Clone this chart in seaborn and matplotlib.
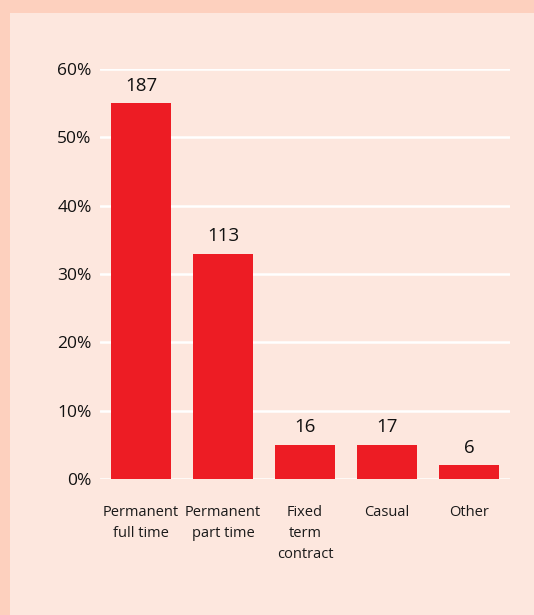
import matplotlib
matplotlib.use("Agg")
import matplotlib.pyplot as plt
import seaborn as sns
import pandas as pd
from matplotlib.patches import Rectangle

# datos
categorias = ["Permanent\nfull time", "Permanent\npart time", "Fixed\nterm\ncontract", "Casual", "Other"]
porcentajes = [55, 33, 5, 5, 2]
conteos = [187, 113, 16, 17, 6]
ticks_y = [0, 10, 20, 30, 40, 50, 60]

sns.set_theme(style="white")
plt.rcParams['font.family'] = ['Open Sans', 'DejaVu Sans']

df = pd.DataFrame({"cat": categorias, "pct": porcentajes})

fig = plt.figure(figsize=(5.34, 6.15), dpi=100)
fig.patch.set_facecolor("#fdd0be")
# panel interior
fig.patches.append(Rectangle((10/534, 0), 1, 1 - 13/615, transform=fig.transFigure,
                             facecolor="#fde7de", edgecolor="none", zorder=-10))

ax = fig.add_axes([100/534, (615-479)/615, 410/534, 410/615])
ax.set_facecolor("none")

sns.barplot(data=df, x="cat", y="pct", color="#ed1c24", width=0.72,
            saturation=1, ax=ax, zorder=3, edgecolor="none", linewidth=0)

ax.bar_label(ax.containers[0], labels=[str(c) for c in conteos],
             padding=6, fontsize=13.5, color="#111111")

ax.set_ylim(0, 60)
ax.set_xlim(-0.5, 4.5)
ax.set_yticks(ticks_y)
ax.set_yticklabels([f"{t}%" for t in ticks_y], fontsize=12.5, color="#111111")
ax.tick_params(axis="y", length=0, pad=6)
ax.tick_params(axis="x", length=0, pad=19, labelsize=10.5, labelcolor="#1a1a1a")
for lab in ax.get_xticklabels():
    lab.set_linespacing(1.55)
    lab.set_verticalalignment("top")
ax.yaxis.grid(True, color="white", linewidth=1.8, zorder=0)
ax.set_axisbelow(True)
ax.set_xlabel("")
ax.set_ylabel("")
sns.despine(ax=ax, left=True, bottom=True)

fig.savefig("out.png", dpi=100, facecolor=fig.get_facecolor())
